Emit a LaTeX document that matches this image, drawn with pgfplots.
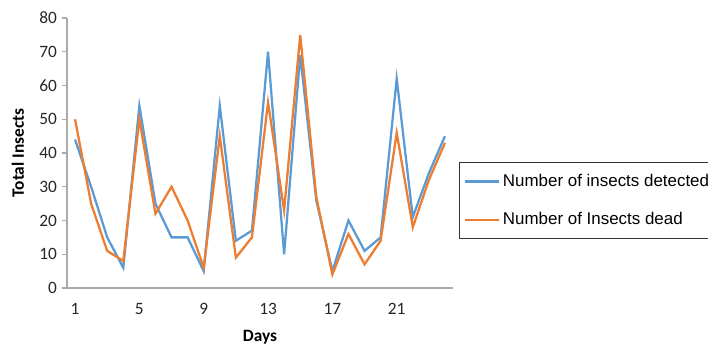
\documentclass[border=0pt]{standalone}
\usepackage{pgfplots}
\pgfplotsset{compat=1.18}
\usepackage{fontspec}
\setmainfont{Carlito}
\newfontfamily\legfont{Liberation Sans}
\definecolor{xlblue}{RGB}{91,155,213}
\definecolor{xlorange}{RGB}{237,125,49}
\definecolor{axgray}{RGB}{170,170,170}
\begin{document}
\begin{tikzpicture}
\begin{axis}[
  scale only axis,
  width=289.5pt, height=202.5pt,
  xmin=0.5, xmax=24.5, ymin=0, ymax=80,
  xtick={1,5,9,13,17,21},
  ytick={0,10,...,80},
  axis x line*=bottom, axis y line*=left,
  axis line style={axgray, line width=0.8pt, -},
  x axis line style={-}, y axis line style={-},
  major tick length=4pt,
  xtick style={draw=none},
  ytick style={axgray, line width=0.8pt},
  tick align=outside,
  ticklabel style={font=\fontsize{13}{15}\selectfont, text=black!85},
  /pgf/number format/assume math mode=true,
  xticklabel style={yshift=-4pt},
  xlabel={Days}, ylabel={Total Insects},
  label style={font=\fontsize{13}{15}\selectfont\bfseries},
  xlabel style={at={(axis description cs:0.5,-0.181)}, anchor=center},
  ylabel style={at={(axis description cs:-0.127,0.5)}, anchor=center},
  legend style={at={(1.0155,0.467)}, anchor=north west, draw=black!80, line width=0.6pt,
    font=\legfont\fontsize{12.7}{14}\selectfont, row sep=14pt, inner xsep=3pt, inner ysep=7pt},
  legend cell align=left,
  legend image code/.code={\draw[#1] (0pt,0pt) -- (26pt,0pt);},
  every axis plot/.append style={line width=1.7pt},
  clip=false,
]
\addplot[xlblue] coordinates {
(1,44) (2,30) (3,15) (4,6) (5,54) (6,25) (7,15) (8,15) (9,5) (10,54) (11,14) (12,17)
(13,70) (14,10) (15,69) (16,26) (17,5) (18,20) (19,11) (20,15) (21,62) (22,21) (23,34) (24,45)};
\addlegendentry{Number of insects detected}
\addplot[xlorange] coordinates {
(1,50) (2,25) (3,11) (4,8) (5,50) (6,22) (7,30) (8,20) (9,6) (10,45) (11,9) (12,15)
(13,55) (14,23) (15,75) (16,27) (17,4) (18,16) (19,7) (20,14) (21,46) (22,18) (23,32) (24,43)};
\addlegendentry{Number of Insects dead}
\end{axis}
\pgfresetboundingbox
\useasboundingbox (-50.25pt,-43.5pt) rectangle (480.75pt,216pt);
\end{tikzpicture}
\end{document}
